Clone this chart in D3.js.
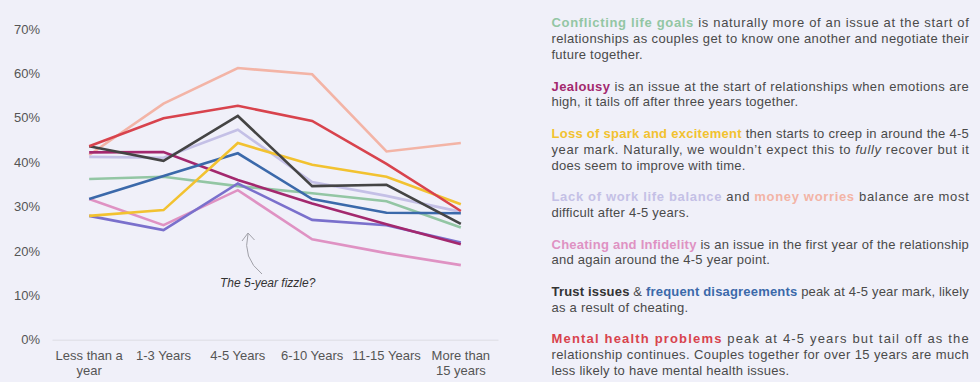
<!DOCTYPE html>
<html><head><meta charset="utf-8">
<script src="https://cdn.jsdelivr.net/npm/d3@7"></script>
<style>
html,body{margin:0;padding:0;background:#f0f0f9;}
svg{display:block;}
</style></head>
<body>
<svg id="chart" width="980" height="382"></svg>
<script>
// ---- data ----
const categories = ["Less than a year","1-3 Years","4-5 Years","6-10 Years","11-15 Years","More than 15 years"];
const tickLabelLines = [["Less than a","year"],["1-3 Years"],["4-5 Years"],["6-10 Years"],["11-15 Years"],["More than","15 years"]];
const yTicks = [0,0.1,0.2,0.3,0.4,0.5,0.6,0.7];

const moneyWorries      = [41.6, 53.2, 61.2, 59.8, 42.4, 44.3];
const mentalHealth      = [43.6, 49.9, 52.7, 49.3, 39.6, 29.0];
const trustIssues       = [43.6, 40.3, 50.4, 34.6, 34.9, 26.1];
const workLifeBalance   = [41.2, 41.0, 47.3, 35.5, 32.4, 28.8];
const lossOfSpark       = [27.9, 29.2, 44.3, 39.4, 36.7, 30.5];
const disagreements     = [31.7, 36.9, 42.0, 31.7, 28.6, 28.5];
const lifeGoals         = [36.2, 36.7, 34.6, 33.0, 31.2, 25.3];
const jealousy          = [42.2, 42.3, 36.0, 30.7, 26.0, 21.5];
const otherIssue        = [27.9, 24.7, 35.2, 27.0, 25.8, 21.9];
const cheating          = [31.7, 25.8, 33.7, 22.6, 19.5, 16.8];

const series = [
  {name:"Money worries", values:moneyWorries, color:"#f3b4a6"},
  {name:"Conflicting life goals", values:lifeGoals, color:"#93c6a4"},
  {name:"Lack of work life balance", values:workLifeBalance, color:"#c4c0e6"},
  {name:"Cheating and infidelity", values:cheating, color:"#df92c3"},
  {name:"Other", values:otherIssue, color:"#7a70cc"},
  {name:"Jealousy", values:jealousy, color:"#a3286e"},
  {name:"Frequent disagreements", values:disagreements, color:"#3b69aa"},
  {name:"Loss of spark and excitement", values:lossOfSpark, color:"#f2c230"},
  {name:"Trust issues", values:trustIssues, color:"#444444"},
  {name:"Mental health problems", values:mentalHealth, color:"#d8434d"}
];

const annotation = "The 5-year fizzle?";

// right-hand commentary: rows (line slots) and segments
const C = {green:"#93c6a4", magenta:"#a3286e", yellow:"#f2c230", lav:"#c4c0e6", salmon:"#f3b4a6",
           pink:"#df92c3", dark:"#333333", blue:"#3b69aa", red:"#d8434d"};
const textLines = [
  {row:0, j:true, segs:[{t:"Conflicting life goals",c:"green"},{t:" is naturally more of an issue at the start of"}]},
  {row:1, j:true, segs:[{t:"relationships as couples get to know one another and negotiate their"}]},
  {row:2, j:false, segs:[{t:"future together."}]},
  {row:4, j:true, segs:[{t:"Jealousy",c:"magenta"},{t:" is an issue at the start of relationships when emotions are"}]},
  {row:5, j:false, segs:[{t:"high, it tails off after three years together."}]},
  {row:7, j:true, segs:[{t:"Loss of spark and excitement",c:"yellow"},{t:" then starts to creep in around the 4-5"}]},
  {row:8, j:true, segs:[{t:"year mark. Naturally, we wouldn\u2019t expect this to "},{t:"fully",i:true},{t:" recover but it"}]},
  {row:9, j:false, segs:[{t:"does seem to improve with time."}]},
  {row:11, j:true, segs:[{t:"Lack of work life balance",c:"lav"},{t:" and "},{t:"money worries",c:"salmon"},{t:" balance are most"}]},
  {row:12, j:false, segs:[{t:"difficult after 4-5 years."}]},
  {row:14, j:true, segs:[{t:"Cheating and Infidelity",c:"pink"},{t:" is an issue in the first year of the relationship"}]},
  {row:15, j:false, segs:[{t:"and again around the 4-5 year point."}]},
  {row:17, j:true, segs:[{t:"Trust issues",c:"dark"},{t:" & "},{t:"frequent disagreements",c:"blue"},{t:" peak at 4-5 year mark, likely"}]},
  {row:18, j:false, segs:[{t:"as a result of cheating."}]},
  {row:20, j:true, segs:[{t:"Mental health problems",c:"red"},{t:" peak at 4-5 years but tail off as the"}]},
  {row:21, j:true, segs:[{t:"relationship continues. Couples together for over 15 years are much"}]},
  {row:22, j:false, segs:[{t:"less likely to have mental health issues."}]}
];

// ---- drawing ----
const svg = d3.select("#chart");
const font = "'Liberation Sans', Arial, sans-serif";

const x = d3.scaleBand().domain(categories).range([52, 498]);
const y = d3.scaleLinear().domain([0, 0.7]).range([339.7, 29]);

// x axis
const xAxis = svg.append("g").attr("transform", "translate(0,339.7)")
  .call(d3.axisBottom(x).tickSize(0).tickFormat(""));
xAxis.select(".domain").attr("stroke", "#dcdce4").attr("stroke-width", 1);
xAxis.selectAll(".tick").each(function(d, i) {
  const t = d3.select(this).append("text")
    .attr("fill", "#555").attr("font-family", font).attr("font-size", 13)
    .attr("text-anchor", "middle");
  tickLabelLines[i].forEach((ln, k) => {
    t.append("tspan").attr("x", 0).attr("y", 15.5 + k * 15.8 + 4.5).text(ln);
  });
});

// y axis
const yAxis = svg.append("g").attr("transform", "translate(52,0)")
  .call(d3.axisLeft(y).tickValues(yTicks).tickFormat(d3.format(".0%")).tickSize(0).tickPadding(12));
yAxis.select(".domain").remove();
yAxis.selectAll("text").attr("fill", "#555").attr("font-family", font).attr("font-size", 13);

// lines
const line = d3.line()
  .x((d, i) => x(categories[i]) + x.bandwidth() / 2)
  .y(d => y(d / 100));
svg.append("g").selectAll("path").data(series).join("path")
  .attr("d", d => line(d.values))
  .attr("fill", "none")
  .attr("stroke", d => d.color)
  .attr("stroke-width", 2.6)
  .attr("stroke-linejoin", "miter");

// annotation
svg.append("text").attr("x", 220).attr("y", 287)
  .attr("font-family", font).attr("font-size", 12).attr("font-style", "italic")
  .attr("fill", "#333").text(annotation);
svg.append("path").attr("d", "M262,274 Q242,258 248,234")
  .attr("fill", "none").attr("stroke", "#a0a0a8").attr("stroke-width", 1);
svg.append("path").attr("d", "M242,241 L248,233 L254.5,240")
  .attr("fill", "none").attr("stroke", "#a0a0a8").attr("stroke-width", 1);

// commentary text
const tx = 551.5, tw = 417.5;
const tg = svg.append("g").attr("font-family", font).attr("font-size", 13).attr("fill", "#4a4a4a");
textLines.forEach(l => {
  const t = tg.append("text").attr("x", tx).attr("y", 22.7 + 15.8 * l.row + 4.6)
    .attr("letter-spacing", 0.25);
  if (l.j) t.attr("textLength", tw).attr("lengthAdjust", "spacing");
  l.segs.forEach(s => {
    const ts = t.append("tspan").text(s.t);
    if (s.c) ts.attr("fill", C[s.c]).attr("font-weight", "bold");
    if (s.i) ts.attr("font-style", "italic");
  });
});
</script>
</body></html>
